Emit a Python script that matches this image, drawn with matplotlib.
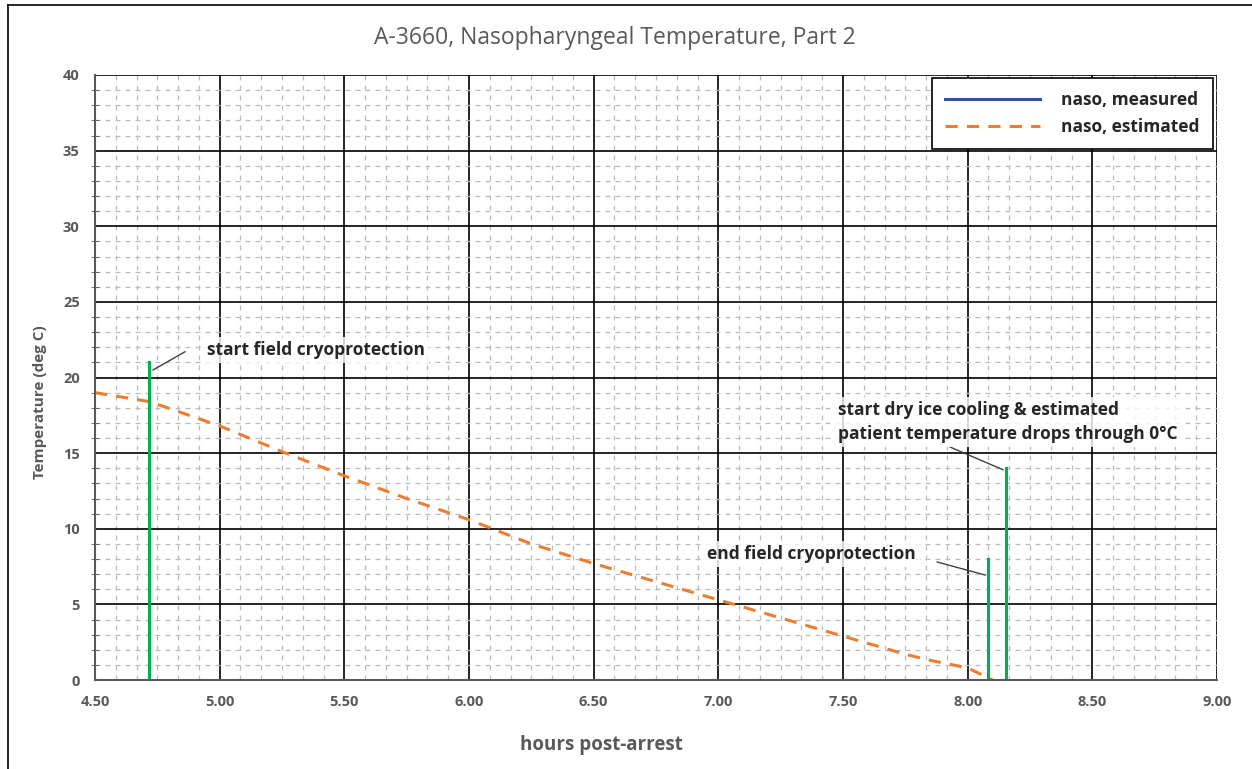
import numpy as np
import matplotlib.pyplot as plt
from matplotlib.lines import Line2D

# datos
horas_est = [4.50, 4.72, 5.00, 5.25, 5.50, 5.75, 6.00, 6.25, 6.50, 6.75, 7.00, 7.25, 7.50, 7.75, 7.85, 8.00, 8.10]
temp_est = [19.0, 18.4, 16.8, 15.1, 13.5, 12.0, 10.6, 9.0, 7.7, 6.5, 5.3, 4.1, 2.9, 1.7, 1.3, 0.8, 0.0]
horas_med = []
temp_med = []

eventos_x = [4.717, 8.083, 8.152]
eventos_top = [21, 8, 14]
eventos_txt = ["start field cryoprotection",
               "end field cryoprotection",
               "start dry ice cooling & estimated\npatient temperature drops through 0°C"]

gris = "#595959"
plt.rcParams['font.family'] = ['Open Sans', 'DejaVu Sans']

fig = plt.figure(figsize=(12.52, 7.69), dpi=100)
ax = fig.add_axes([95/1252, 1 - 680/769, 1122/1252, 605/769])

# rejilla
ax.set_xlim(4.5, 9.0)
ax.set_ylim(0, 40)
ax.set_xticks(np.arange(4.5, 9.01, 0.5))
ax.set_yticks(np.arange(0, 41, 5))
ax.set_xticks(np.arange(4.5, 9.0, 1/12), minor=True)
ax.set_yticks(np.arange(0, 40, 1), minor=True)
ax.grid(which='major', color='black', linewidth=1.2)
ax.grid(which='minor', color='#bcbcbc', linewidth=0.9, linestyle=(0, (4, 4)))
ax.set_axisbelow(True)
ax.tick_params(which='both', length=0)
ax.tick_params(axis='y', which='minor', length=6, direction='inout', color=gris)
ax.tick_params(axis='x', which='major', pad=11)
ax.tick_params(axis='y', which='major', pad=11)
ax.set_xticklabels([f"{v:.2f}" for v in np.arange(4.5, 9.01, 0.5)])
for lab in ax.get_xticklabels() + ax.get_yticklabels():
    lab.set_fontweight('bold')
    lab.set_color(gris)
    lab.set_fontsize(10.5)
for s in ['top', 'right']:
    ax.spines[s].set_visible(False)
ax.spines['left'].set_color(gris)
ax.spines['bottom'].set_color(gris)
ax.spines['left'].set_linewidth(1.5)
ax.spines['bottom'].set_linewidth(1.5)

# series
ax.plot(horas_med, temp_med, color='#2f5597', linewidth=2.2, label='naso, measured')
ax.plot(horas_est, temp_est, color='#ed7d31', linewidth=2.2, linestyle=(0, (4, 3)), label='naso, estimated')

for x, top in zip(eventos_x, eventos_top):
    ax.plot([x, x], [0, top], color='#00b050', linewidth=2.2)

# anotaciones
caja = dict(facecolor='white', edgecolor='none', alpha=0.8, pad=3)
ax.text(4.95, 21.8, eventos_txt[0], fontsize=12.5, fontweight='bold', color='#262626',
        va='center', ha='left', bbox=caja)
ax.plot([4.733, 4.861], [20.5, 21.7], color='#404040', linewidth=1)
ax.text(6.955, 8.33, eventos_txt[1], fontsize=12.5, fontweight='bold', color='#262626',
        va='center', ha='left', bbox=caja)
ax.plot([7.878, 8.07], [7.8, 6.94], color='#404040', linewidth=1)
ax.text(7.48, 17.06, eventos_txt[2], fontsize=12.5, fontweight='bold', color='#262626',
        va='center', ha='left', linespacing=1.45, bbox=caja)
ax.plot([7.93, 8.142], [15.4, 13.9], color='#404040', linewidth=1)

leg = ax.legend(loc='upper right', bbox_to_anchor=(1.004, 1.009), frameon=True, fancybox=False,
                handlelength=5.5, fontsize=12.5, borderpad=0.75, labelspacing=0.5,
                handletextpad=1.2, framealpha=1)
leg.get_frame().set_edgecolor('black')
leg.get_frame().set_linewidth(1.2)
for t in leg.get_texts():
    t.set_fontweight('bold')
    t.set_color('#262626')

fig.text(40/1252, 1 - 402/769, 'Temperature (deg C)', fontsize=11, fontweight='bold',
         color=gris, rotation=90, ha='center', va='center')
fig.text(601/1252, 1 - 745/769, 'hours post-arrest', fontsize=13.5, fontweight='bold',
         color=gris, ha='center', va='center')
fig.text(615/1252, 1 - 38/769, 'A-3660, Nasopharyngeal Temperature, Part 2',
         fontsize=16.5, color=gris, ha='center', va='center')

# marco de la figura
fig.add_artist(Line2D([8/1252, 8/1252], [0, 1 - 5/769], color='black', linewidth=1.2))
fig.add_artist(Line2D([8/1252, 1.0], [1 - 5/769, 1 - 5/769], color='black', linewidth=1.2))

fig.savefig('out.png', dpi=100)
